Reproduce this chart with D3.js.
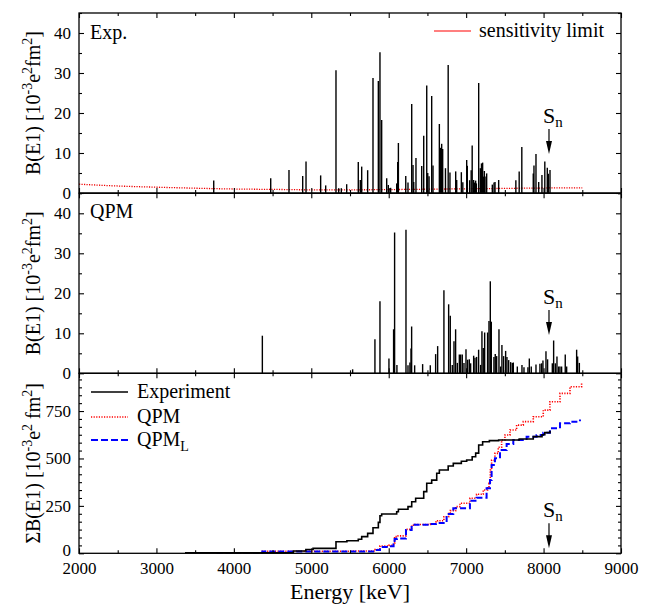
<!DOCTYPE html>
<html lang="en">

<head>
    <meta charset="UTF-8">
    <title>B(E1) strength</title>
    <script src="https://cdn.jsdelivr.net/npm/d3@7/dist/d3.min.js"></script>

    <style type="text/css">
        body {
            margin: 0;
            background: #fff;
        }

        text {
            font-family: "Liberation Serif", "Times New Roman", serif;
            fill: #000;
        }

        .bar {
            stroke: #000;
            stroke-width: 1.4;
        }

        .frame {
            fill: none;
            stroke: #000;
            stroke-width: 1.3;
        }

        .tick line {
            stroke: #000;
            stroke-width: 1.1;
        }
    </style>
</head>

<body>

    <svg id="chart"></svg>

    <script>

        // Size of the SVG
        var width = 657;
        var height = 604;

        // Axis ticks
        var energyTicks = [2000, 3000, 4000, 5000, 6000, 7000, 8000, 9000];
        var strengthTicks = [0, 10, 20, 30, 40];
        var sumTicks = [0, 250, 500, 750];

        // Experiment: energy [keV] and B(E1)
        var expEnergy = [3740, 4476, 4712, 4889, 4932, 5121, 5186, 5319, 5354, 5388,
            5457, 5607, 5633, 5651, 5728, 5797, 5866, 5887, 5909, 5974,
            5995, 6025, 6103, 6116, 6125, 6220, 6249, 6297, 6314, 6323,
            6352, 6426, 6452, 6491, 6504, 6521, 6555, 6572, 6654, 6671,
            6684, 6697, 6733, 6768, 6791, 6865, 6878, 6938, 6957, 7007,
            7015, 7045, 7065, 7078, 7097, 7106, 7123, 7132, 7162, 7183,
            7198, 7213, 7222, 7235, 7256, 7265, 7338, 7360, 7373, 7420,
            7642, 7685, 7719, 7867, 7876, 7902, 7937, 7979, 8016, 8048,
            8061, 8083];
        var expStrength = [3.1, 3.7, 5.75, 4.25, 7.9, 4.4, 1.9, 30.7, 1.2, 1.2,
            2.2, 7.75, 3.25, 6.6, 5.7, 28.75, 28, 35.2, 18.25, 3.7,
            2.0, 1.3, 2.4, 7.75, 12.5, 4.25, 2.6, 22.25, 7.0, 2.75,
            8.75, 6.75, 14.3, 26.9, 5.0, 4.2, 24.25, 6.9, 17.25, 11.3,
            12.3, 11.0, 6.2, 32, 5.1, 5.4, 3.25, 5.2, 2.7, 8.25,
            6.8, 3.2, 5.7, 11.9, 3.25, 2.6, 3.1, 2.4, 27.5, 6.2,
            7.4, 7.6, 4.1, 5.5, 4.1, 4.9, 2.1, 2.6, 2.75, 3.25,
            3.2, 5.4, 11.5, 4.9, 6.9, 9.75, 2.75, 4.5, 7.9, 6.3,
            4.8, 5.75];

        // Sensitivity limit
        var sensEnergy = [2000, 2500, 3000, 3500, 4000, 4500, 5000, 5500, 6000, 6500, 7000, 7500, 8000, 8500];
        var sensStrength = [2.2, 1.75, 1.45, 1.2, 1.0, 0.9, 0.8, 0.8, 0.85, 0.95, 1.05, 1.15, 1.25, 1.3];

        // QPM: energy [keV] and B(E1)
        var qpmEnergy = [4368, 5534, 5822, 5887, 6003, 6063, 6076, 6106, 6223, 6249,
            6274, 6288, 6296, 6335, 6438, 6537, 6606, 6632, 6713, 6774,
            6795, 6821, 6843, 6864, 6886, 6912, 6929, 6950, 6972, 6998,
            7019, 7041, 7058, 7097, 7114, 7135, 7161, 7187, 7204, 7221,
            7239, 7277, 7295, 7312, 7325, 7359, 7376, 7394, 7424, 7445,
            7462, 7484, 7510, 7527, 7549, 7575, 7596, 7609, 7661, 7721,
            7747, 7798, 7816, 7841, 7902, 7953, 7975, 7992, 8031, 8052,
            8113, 8130, 8152, 8173, 8195, 8212, 8233, 8280, 8298, 8427,
            8440, 8462];
        var qpmStrength = [9.4, 1.0, 8.5, 18, 3.7, 11, 35.2, 2.1, 35.9, 2.0,
            2.7, 6.2, 11.7, 2.0, 2.3, 2.0, 4.8, 6.8, 20.75, 17.25,
            14.4, 2.1, 8.0, 11, 2.6, 4.7, 4.7, 4.7, 2.6, 6.0,
            3.4, 3.5, 2.5, 4.4, 3.9, 4.1, 5.9, 2.1, 10.5, 6.3,
            10.2, 10.2, 13.1, 23, 12.9, 4.1, 4.8, 4.3, 11, 1.7,
            7.1, 4.3, 5.6, 4.1, 3.3, 2.8, 2.6, 2.7, 1.7, 2.1,
            1.5, 1.5, 3.7, 1.7, 2.2, 2.4, 2.5, 3.2, 5.5, 3.5,
            2.5, 8.2, 2.5, 4.2, 1.7, 1.7, 1.7, 4.7, 1.7, 5.9,
            4.2, 2.6];

        // Running sums
        var sumExpEnergy = [3369, 4768, 4930, 5023, 5319, 5460, 5607, 5651, 5728, 5797,
            5866, 5887, 5909, 6103, 6125, 6249, 6297, 6348, 6452, 6491,
            6555, 6620, 6654, 6768, 6834, 6938, 7007, 7078, 7123, 7162,
            7213, 7300, 7420, 7685, 7867, 7980, 8016, 8083];
        var sumExpValue = [3, 12, 20, 26, 61, 66, 74, 88, 105, 135,
            163, 198, 207, 219, 232, 246, 272, 290, 325, 369,
            386, 422, 439, 460, 474, 485, 492, 509, 528, 571,
            588, 594, 597, 603, 615, 625, 636, 646];

        var sumQpmEnergy = [3780, 4368, 5534, 5822, 5887, 6003, 6063, 6076, 6106, 6223,
            6296, 6335, 6540, 6610, 6632, 6713, 6774, 6795, 6864, 6920,
            7049, 7135, 7221, 7277, 7295, 7312, 7329, 7372, 7415, 7458,
            7501, 7566, 7652, 7738, 7867, 7996, 8082, 8212, 8341, 8491];
        var sumQpmValue = [2, 11, 12, 20, 38, 42, 53, 88, 92, 126,
            148, 152, 156, 165, 172, 193, 210, 225, 246, 264,
            290, 311, 334, 350, 369, 439, 490, 527, 559, 597,
            624, 650, 676, 694, 720, 755, 799, 843, 878, 899];

        var sumQpmLEnergy = [3780, 4368, 5534, 5822, 5887, 6003, 6063, 6076, 6106, 6223,
            6296, 6540, 6610, 6748, 6834, 7049, 7135, 7264, 7308, 7329,
            7372, 7437, 7523, 7609, 7781, 7910, 7996, 8082, 8212, 8341,
            8470];
        var sumQpmLValue = [1, 9, 10, 17, 33, 37, 48, 75, 78, 123,
            150, 155, 160, 207, 237, 277, 293, 343, 386, 465,
            501, 545, 576, 597, 615, 624, 636, 659, 685, 694,
            706];

        var separationEnergy = 8070;

        // Layout
        var left = 79, right = 621;
        var panelTop = [13, 193.3, 373.3];
        var panelHeight = 180;

        var svg = d3.select("#chart")
            .attr("width", width)
            .attr("height", height);

        var x = d3.scaleLinear().domain([2000, 9000]).range([left, right]);

        function pairs(xs, ys) {
            return xs.map(function (d, i) {
                return [d, ys[i]];
            });
        }

        function range(a, b, step) {
            var out = [];
            for (var v = a; v <= b + 1e-6; v += step) out.push(v);
            return out;
        }

        // Frame and inward ticks for one panel
        function drawAxes(y, top, majors, minors, showX) {
            var bottom = top + panelHeight;

            svg.append("g")
                .attr("transform", "translate(" + left + ",0)")
                .call(d3.axisLeft(y).tickValues(minors).tickFormat("").tickSizeInner(-3).tickSizeOuter(0))
                .call(function (g) { g.select(".domain").remove(); });
            svg.append("g")
                .attr("transform", "translate(" + right + ",0)")
                .call(d3.axisRight(y).tickValues(minors).tickFormat("").tickSizeInner(-3).tickSizeOuter(0))
                .call(function (g) { g.select(".domain").remove(); });
            svg.append("g")
                .attr("transform", "translate(" + right + ",0)")
                .call(d3.axisRight(y).tickValues(majors).tickFormat("").tickSizeInner(-5).tickSizeOuter(0))
                .call(function (g) { g.select(".domain").remove(); });
            svg.append("g")
                .attr("transform", "translate(" + left + ",0)")
                .call(d3.axisLeft(y).tickValues(majors).tickFormat(d3.format("d")).tickSizeInner(-5).tickSizeOuter(0).tickPadding(8))
                .call(function (g) {
                    g.select(".domain").remove();
                    g.selectAll("text").style("font-size", "17px");
                    // keep the bottom label clear of the energy labels
                    if (showX) {
                        g.selectAll("text").filter(function (d) { return d === 0; }).attr("dy", "0.1em");
                    }
                });

            var xMinor = range(2500, 8500, 1000);
            [top, bottom].forEach(function (yy, k) {
                var dir = k === 0 ? d3.axisTop : d3.axisBottom;
                svg.append("g")
                    .attr("transform", "translate(0," + yy + ")")
                    .call(dir(x).tickValues(xMinor).tickFormat("").tickSizeInner(-3).tickSizeOuter(0))
                    .call(function (g) { g.select(".domain").remove(); });
                svg.append("g")
                    .attr("transform", "translate(0," + yy + ")")
                    .call(dir(x).tickValues(energyTicks).tickFormat(showX && k === 1 ? d3.format("d") : "")
                        .tickSizeInner(-5).tickSizeOuter(0).tickPadding(9))
                    .call(function (g) {
                        g.select(".domain").remove();
                        g.selectAll("text").style("font-size", "17px");
                    });
            });

            svg.append("rect")
                .attr("class", "frame")
                .attr("x", left)
                .attr("y", top)
                .attr("width", right - left)
                .attr("height", panelHeight);
        }

        function yLabel(top, prefix, gap) {
            var t = svg.append("text")
                .attr("transform", "translate(40," + (top + panelHeight / 2) + ") rotate(-90)")
                .attr("text-anchor", "middle")
                .style("font-size", "20px");
            t.append("tspan").text(prefix + "B(E1) [10");
            t.append("tspan").attr("dy", -8).style("font-size", "14px").text("-3");
            t.append("tspan").attr("dy", 8).text("e");
            t.append("tspan").attr("dy", -8).style("font-size", "14px").text("2");
            t.append("tspan").attr("dy", 8).text(gap + "fm");
            t.append("tspan").attr("dy", -8).style("font-size", "14px").text("2");
            t.append("tspan").attr("dy", 8).text("]");
        }

        function separation(y, tipValue) {
            var xs = x(separationEnergy);
            var tip = y(tipValue);
            svg.append("line")
                .attr("x1", xs).attr("x2", xs)
                .attr("y1", tip - 25).attr("y2", tip - 6)
                .attr("stroke", "#000")
                .attr("stroke-width", 1.2);
            svg.append("path")
                .attr("d", "M" + (xs - 3) + "," + (tip - 13) + "L" + (xs + 3) + "," + (tip - 13) + "L" + xs + "," + tip + "Z")
                .attr("fill", "#000");
            var t = svg.append("text")
                .attr("x", xs - 6)
                .attr("y", tip - 31)
                .style("font-size", "22px");
            t.append("tspan").text("S");
            t.append("tspan").attr("dy", 4).style("font-size", "15px").text("n");
        }

        // ---------- Panel 1: experiment ----------
        var y1 = d3.scaleLinear().domain([0, 45]).range([panelTop[0] + panelHeight, panelTop[0]]);

        svg.append("path")
            .datum(pairs(sensEnergy, sensStrength))
            .attr("fill", "none")
            .attr("stroke", "#e00")
            .attr("stroke-width", 1.3)
            .attr("stroke-dasharray", "1.2,1.3")
            .attr("d", d3.line().curve(d3.curveMonotoneX)
                .x(function (d) { return x(d[0]); })
                .y(function (d) { return y1(d[1]); }));

        svg.append("g").selectAll("line")
            .data(pairs(expEnergy, expStrength))
            .enter()
            .append("line")
            .attr("class", "bar")
            .attr("x1", function (d) { return x(d[0]); })
            .attr("x2", function (d) { return x(d[0]); })
            .attr("y1", y1(0))
            .attr("y2", function (d) { return y1(d[1]); });

        drawAxes(y1, panelTop[0], strengthTicks, range(5, 45, 10), false);
        yLabel(panelTop[0], "", "");
        separation(y1, 9.75);

        svg.append("text")
            .attr("x", 90).attr("y", 39)
            .style("font-size", "20px")
            .text("Exp.");

        svg.append("line")
            .attr("x1", 434).attr("x2", 471)
            .attr("y1", 31).attr("y2", 31)
            .attr("stroke", "#f55")
            .attr("stroke-width", 1.5);
        svg.append("text")
            .attr("x", 479).attr("y", 37)
            .style("font-size", "20px")
            .text("sensitivity limit");

        // ---------- Panel 2: QPM ----------
        var y2 = d3.scaleLinear().domain([0, 45]).range([panelTop[1] + panelHeight, panelTop[1]]);

        svg.append("g").selectAll("line")
            .data(pairs(qpmEnergy, qpmStrength))
            .enter()
            .append("line")
            .attr("class", "bar")
            .attr("x1", function (d) { return x(d[0]); })
            .attr("x2", function (d) { return x(d[0]); })
            .attr("y1", y2(0))
            .attr("y2", function (d) { return y2(d[1]); });

        drawAxes(y2, panelTop[1], strengthTicks, range(5, 45, 10), false);
        yLabel(panelTop[1], "", "");
        separation(y2, 9.6);

        svg.append("text")
            .attr("x", 90).attr("y", 218)
            .style("font-size", "20px")
            .text("QPM");

        // ---------- Panel 3: running sums ----------
        var y3 = d3.scaleLinear().domain([0, 949]).range([panelTop[2] + panelHeight, panelTop[2]]);

        var sumLine = d3.line()
            .x(function (d) { return x(d[0]); })
            .y(function (d) { return y3(d[1]); });

        svg.append("path")
            .datum(pairs(sumQpmEnergy, sumQpmValue))
            .attr("fill", "none")
            .attr("stroke", "#f00")
            .attr("stroke-width", 1.6)
            .attr("stroke-dasharray", "1.2,1.4")
            .attr("d", sumLine.curve(d3.curveStepAfter));

        svg.append("path")
            .datum(pairs(sumQpmLEnergy, sumQpmLValue))
            .attr("fill", "none")
            .attr("stroke", "#00f")
            .attr("stroke-width", 2)
            .attr("stroke-dasharray", "6,3")
            .attr("d", sumLine.curve(d3.curveStepAfter));

        svg.append("path")
            .datum(pairs(sumExpEnergy, sumExpValue))
            .attr("fill", "none")
            .attr("stroke", "#000")
            .attr("stroke-width", 1.6)
            .attr("d", sumLine.curve(d3.curveStepAfter));

        drawAxes(y3, panelTop[2], sumTicks, range(0, 949, 250 / 6).filter(function (v) {
            return Math.abs(v / 250 - Math.round(v / 250)) > 0.01;
        }), true);
        yLabel(panelTop[2], "\u03A3", " ");
        separation(y3, 26);

        // legend
        var legend = [
            {label: "Experiment", sub: "", color: "#000", dash: null, width: 1.6, y: 392},
            {label: "QPM", sub: "", color: "#f00", dash: "1.2,1.4", width: 1.6, y: 417},
            {label: "QPM", sub: "L", color: "#00f", dash: "7,3", width: 2, y: 440}
        ];
        legend.forEach(function (d) {
            svg.append("line")
                .attr("x1", 91).attr("x2", 128)
                .attr("y1", d.y).attr("y2", d.y)
                .attr("stroke", d.color)
                .attr("stroke-width", d.width)
                .attr("stroke-dasharray", d.dash);
            var t = svg.append("text")
                .attr("x", 137).attr("y", d.y + 6)
                .style("font-size", "20px");
            t.append("tspan").text(d.label);
            if (d.sub) t.append("tspan").attr("dy", 5).style("font-size", "14px").text(d.sub);
        });

        svg.append("text")
            .attr("x", (left + right) / 2)
            .attr("y", 599)
            .attr("text-anchor", "middle")
            .style("font-size", "22px")
            .text("Energy [keV]");

    </script>

</body>

</html>
